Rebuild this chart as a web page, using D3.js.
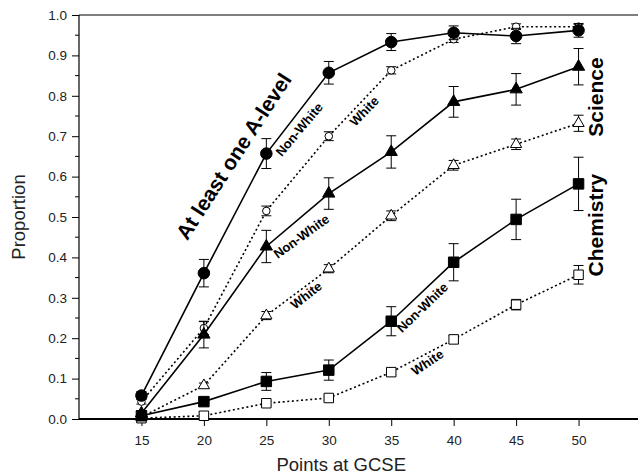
<!DOCTYPE html>
<html>
<head>
<meta charset="utf-8">
<script src="https://cdn.jsdelivr.net/npm/d3@7"></script>
<style>
  body { margin: 0; background: #fff; }
  svg { font-family: "Liberation Sans", Arial, Helvetica, sans-serif; }
</style>
</head>
<body>
<div id="chart"></div>
<script>
(function(){
// GCSE points (x categories)
const gcse = [15, 20, 25, 30, 35, 40, 45, 50];

// At least one A-level
const aLevelNonWhite    = [0.058, 0.361, 0.657, 0.857, 0.933, 0.956, 0.948, 0.962];
const aLevelNonWhiteErr = [0.010, 0.034, 0.037, 0.028, 0.021, 0.017, 0.019, 0.017];
const aLevelWhite       = [0.043, 0.225, 0.515, 0.700, 0.863, 0.940, 0.971, 0.971];
const aLevelWhiteErr    = [0.006, 0.016, 0.012, 0.011, 0.009, 0.008, 0.007, 0.006];

// Science
const scienceNonWhite    = [0.014, 0.209, 0.427, 0.558, 0.661, 0.785, 0.816, 0.872];
const scienceNonWhiteErr = [0.006, 0.033, 0.040, 0.039, 0.040, 0.038, 0.039, 0.045];
const scienceWhite       = [0.005, 0.083, 0.256, 0.372, 0.503, 0.628, 0.680, 0.732];
const scienceWhiteErr    = [0.002, 0.006, 0.010, 0.010, 0.012, 0.012, 0.013, 0.020];

// Chemistry
const chemNonWhite    = [0.008, 0.043, 0.093, 0.121, 0.242, 0.388, 0.494, 0.582];
const chemNonWhiteErr = [0.004, 0.008, 0.022, 0.025, 0.036, 0.046, 0.050, 0.066];
const chemWhite       = [0.002, 0.008, 0.039, 0.052, 0.116, 0.197, 0.283, 0.357];
const chemWhiteErr    = [0.001, 0.003, 0.005, 0.005, 0.006, 0.010, 0.013, 0.023];

const yTicks = [0, 0.1, 0.2, 0.3, 0.4, 0.5, 0.6, 0.7, 0.8, 0.9, 1.0];

const W = 638, H = 474;
const margin = { top: 15, right: -3, bottom: 55, left: 79 };
const width = W - margin.left - margin.right,
      height = H - margin.top - margin.bottom;

const svg = d3.select("#chart").append("svg")
    .attr("width", W).attr("height", H);
const g = svg.append("g")
    .attr("transform", `translate(${margin.left},${margin.top})`);

const x = d3.scaleLinear().domain([10, 55]).range([0, width]);
const y = d3.scaleLinear().domain([0, 1]).range([height, 0]);

// y axis, major + minor ticks
const yAxis = g.append("g")
    .call(d3.axisLeft(y).tickValues(yTicks).tickFormat(d3.format(".1f")).tickSize(7).tickPadding(5));
yAxis.select(".domain").remove();
yAxis.selectAll("text").attr("font-size", 13.5).attr("fill", "#222");
g.append("g")
    .selectAll("line")
    .data(d3.range(0.05, 1, 0.1))
    .join("line")
    .attr("x1", -4).attr("x2", 0)
    .attr("y1", d => y(d)).attr("y2", d => y(d))
    .attr("stroke", "#000");
g.append("line").attr("x1", 0).attr("x2", 0).attr("y1", 0).attr("y2", height)
    .attr("stroke", "#000").attr("stroke-width", 1.2);
// top frame line
g.append("line").attr("x1", 0).attr("x2", width).attr("y1", 0).attr("y2", 0)
    .attr("stroke", "#000").attr("stroke-width", 1.2);

// x axis
const xAxis = g.append("g")
    .attr("transform", `translate(0,${height})`)
    .call(d3.axisBottom(x).tickValues(gcse).tickSize(7).tickPadding(9));
xAxis.select(".domain").remove();
xAxis.selectAll("text").attr("font-size", 13.5).attr("fill", "#222");
g.append("line").attr("x1", 0).attr("x2", width).attr("y1", height).attr("y2", height)
    .attr("stroke", "#000").attr("stroke-width", 2.2);

// axis titles
svg.append("text")
    .attr("text-anchor", "middle")
    .attr("x", margin.left + x(31)).attr("y", 471)
    .attr("font-size", 18.5).attr("fill", "#222")
    .text("Points at GCSE");
svg.append("text")
    .attr("text-anchor", "middle")
    .attr("transform", `translate(25,${margin.top + y(0.5)}) rotate(-90)`)
    .attr("font-size", 18.5).attr("fill", "#222")
    .text("Proportion");

const series = [
  { v: aLevelWhite, e: aLevelWhiteErr, solid: false, sym: d3.symbolCircle, size: 45, fill: "#fff" },
  { v: scienceWhite, e: scienceWhiteErr, solid: false, sym: d3.symbolTriangle, size: 55, fill: "#fff" },
  { v: chemWhite, e: chemWhiteErr, solid: false, sym: d3.symbolSquare, size: 90, fill: "#fff" },
  { v: aLevelNonWhite, e: aLevelNonWhiteErr, solid: true, sym: d3.symbolCircle, size: 105, fill: "#000" },
  { v: scienceNonWhite, e: scienceNonWhiteErr, solid: true, sym: d3.symbolTriangle, size: 65, fill: "#000" },
  { v: chemNonWhite, e: chemNonWhiteErr, solid: true, sym: d3.symbolSquare, size: 110, fill: "#000" }
];

const line = d3.line().x(d => x(d.x)).y(d => y(d.y));

series.forEach(s => {
  const pts = gcse.map((gx, i) => ({ x: gx, y: s.v[i], e: s.e[i] }));
  g.append("path")
    .datum(pts)
    .attr("d", line)
    .attr("fill", "none")
    .attr("stroke", "#000")
    .attr("stroke-width", 1.6)
    .attr("stroke-dasharray", s.solid ? null : "2,2.6");

  const eb = g.append("g").selectAll("g").data(pts).join("g")
    .attr("stroke", "#000").attr("stroke-width", 1);
  eb.append("line")
    .attr("x1", d => x(d.x)).attr("x2", d => x(d.x))
    .attr("y1", d => y(d.y - d.e)).attr("y2", d => y(d.y + d.e));
  eb.append("line")
    .attr("x1", d => x(d.x) - 5).attr("x2", d => x(d.x) + 5)
    .attr("y1", d => y(d.y + d.e)).attr("y2", d => y(d.y + d.e));
  eb.append("line")
    .attr("x1", d => x(d.x) - 5).attr("x2", d => x(d.x) + 5)
    .attr("y1", d => y(d.y - d.e)).attr("y2", d => y(d.y - d.e));

  g.append("g").selectAll("path").data(pts).join("path")
    .attr("transform", d => `translate(${x(d.x)},${y(d.y)})`)
    .attr("d", d3.symbol().type(s.sym).size(s.size))
    .attr("fill", s.fill)
    .attr("stroke", "#000")
    .attr("stroke-width", 1);
});

// annotations (positioned in data units)
function note(txt, gx, gy, angle, size) {
  g.append("text")
    .attr("text-anchor", "middle")
    .attr("dominant-baseline", "middle")
    .attr("transform", `translate(${x(gx)},${y(gy)}) rotate(${angle})`)
    .attr("font-size", size).attr("font-weight", "bold")
    .text(txt);
}
note("At least one A-level", 22.5, 0.648, -57, 21);
note("Non-White", 27.7, 0.715, -50, 13);
note("White", 32.9, 0.76, -46, 13);
note("Non-White", 27.85, 0.45, -36, 13);
note("White", 28.25, 0.304, -38, 13);
note("Non-White", 37.55, 0.274, -44, 13);
note("White", 37.95, 0.138, -34, 13);
note("Science", 51.5, 0.797, -90, 21);
note("Chemistry", 51.5, 0.48, -90, 21);
})();
</script>
</body>
</html>
